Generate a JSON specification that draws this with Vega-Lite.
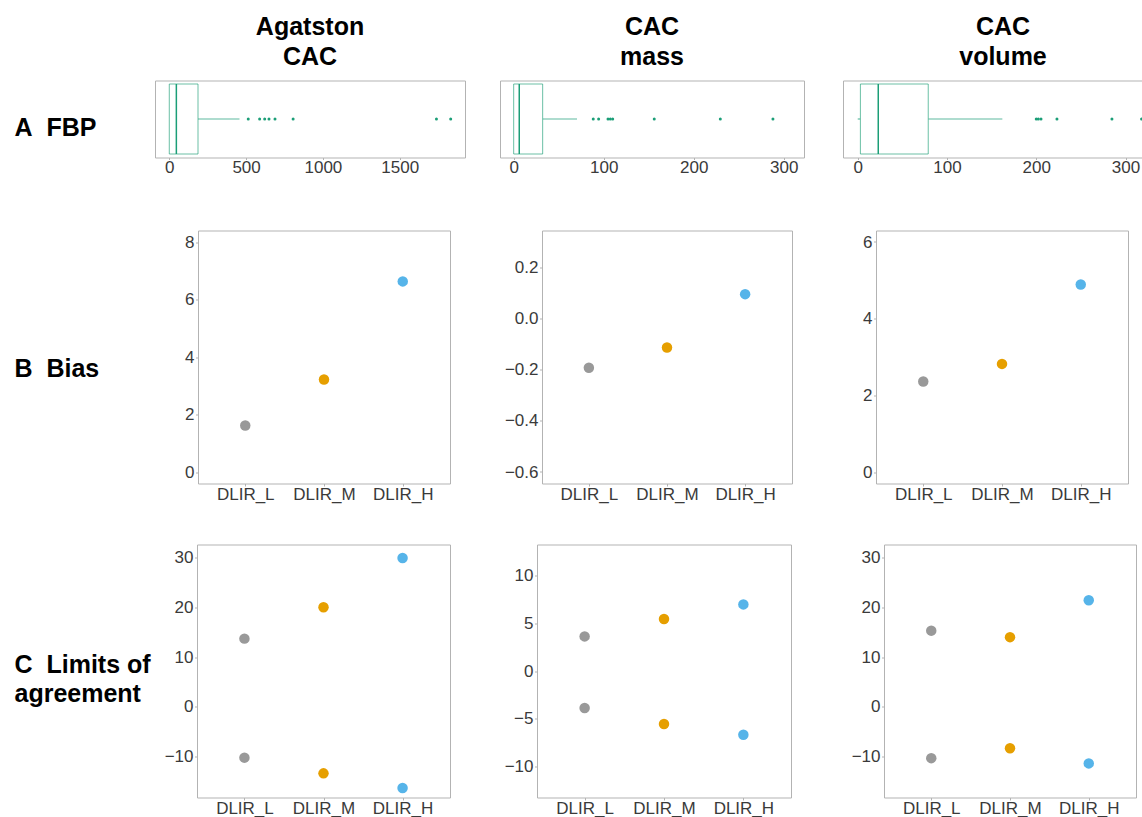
{
  "$schema": "https://vega.github.io/schema/vega-lite/v6.json",
  "background": "white",
  "padding": {"left": 13, "top": 14.5, "right": 0, "bottom": 0},
  "datasets": {
    "box": [
      {"metric": "Agatston CAC", "lower": 0, "q1": 0, "median": 46, "q3": 187, "upper": 457},
      {"metric": "CAC mass", "lower": 0, "q1": 0, "median": 6.2, "q3": 32.2, "upper": 70.4},
      {"metric": "CAC volume", "lower": 0, "q1": 3, "median": 23, "q3": 79, "upper": 162}
    ],
    "outliers": [
      {"metric": "Agatston CAC", "value": 514},
      {"metric": "Agatston CAC", "value": 588},
      {"metric": "Agatston CAC", "value": 621},
      {"metric": "Agatston CAC", "value": 649},
      {"metric": "Agatston CAC", "value": 688},
      {"metric": "Agatston CAC", "value": 806},
      {"metric": "Agatston CAC", "value": 1739},
      {"metric": "Agatston CAC", "value": 1832},
      {"metric": "CAC mass", "value": 88.4},
      {"metric": "CAC mass", "value": 94.4},
      {"metric": "CAC mass", "value": 104.8},
      {"metric": "CAC mass", "value": 107.4},
      {"metric": "CAC mass", "value": 110},
      {"metric": "CAC mass", "value": 156.2},
      {"metric": "CAC mass", "value": 229.6},
      {"metric": "CAC mass", "value": 288.1},
      {"metric": "CAC volume", "value": 200},
      {"metric": "CAC volume", "value": 202.3},
      {"metric": "CAC volume", "value": 205.3},
      {"metric": "CAC volume", "value": 223.2},
      {"metric": "CAC volume", "value": 284.8},
      {"metric": "CAC volume", "value": 318}
    ],
    "bias": [
      {"metric": "Agatston CAC", "method": "DLIR_L", "bias": 1.62},
      {"metric": "Agatston CAC", "method": "DLIR_M", "bias": 3.22},
      {"metric": "Agatston CAC", "method": "DLIR_H", "bias": 6.63},
      {"metric": "CAC mass", "method": "DLIR_L", "bias": -0.192},
      {"metric": "CAC mass", "method": "DLIR_M", "bias": -0.113},
      {"metric": "CAC mass", "method": "DLIR_H", "bias": 0.096},
      {"metric": "CAC volume", "method": "DLIR_L", "bias": 2.36},
      {"metric": "CAC volume", "method": "DLIR_M", "bias": 2.82},
      {"metric": "CAC volume", "method": "DLIR_H", "bias": 4.89}
    ],
    "loa": [
      {"metric": "Agatston CAC", "method": "DLIR_L", "limit": "upper", "value": 13.7},
      {"metric": "Agatston CAC", "method": "DLIR_L", "limit": "lower", "value": -10.2},
      {"metric": "Agatston CAC", "method": "DLIR_M", "limit": "upper", "value": 20.0},
      {"metric": "Agatston CAC", "method": "DLIR_M", "limit": "lower", "value": -13.35},
      {"metric": "Agatston CAC", "method": "DLIR_H", "limit": "upper", "value": 29.9},
      {"metric": "Agatston CAC", "method": "DLIR_H", "limit": "lower", "value": -16.3},
      {"metric": "CAC mass", "method": "DLIR_L", "limit": "upper", "value": 3.61},
      {"metric": "CAC mass", "method": "DLIR_L", "limit": "lower", "value": -3.86},
      {"metric": "CAC mass", "method": "DLIR_M", "limit": "upper", "value": 5.43},
      {"metric": "CAC mass", "method": "DLIR_M", "limit": "lower", "value": -5.53},
      {"metric": "CAC mass", "method": "DLIR_H", "limit": "upper", "value": 6.95},
      {"metric": "CAC mass", "method": "DLIR_H", "limit": "lower", "value": -6.65},
      {"metric": "CAC volume", "method": "DLIR_L", "limit": "upper", "value": 15.3},
      {"metric": "CAC volume", "method": "DLIR_L", "limit": "lower", "value": -10.3},
      {"metric": "CAC volume", "method": "DLIR_M", "limit": "upper", "value": 14.0},
      {"metric": "CAC volume", "method": "DLIR_M", "limit": "lower", "value": -8.3},
      {"metric": "CAC volume", "method": "DLIR_H", "limit": "upper", "value": 21.4},
      {"metric": "CAC volume", "method": "DLIR_H", "limit": "lower", "value": -11.35}
    ]
  },
  "spacing": 53,
  "vconcat": [
    {
      "spacing": 33,
      "hconcat": [
        {
          "width": 310, "height": 77,
          "title": {"text": ["Agatston", "CAC"]},
          "layer": [
            {"data": {"name": "box"}, "transform": [{"filter": "datum.metric === 'Agatston CAC'"}],
             "mark": {"type": "rule", "stroke": "#1b9e77", "strokeOpacity": 0.7, "strokeWidth": 1.2},
             "encoding": {
               "x": {"field": "q3", "type": "quantitative", "scale": {"domain": [-93, 1925], "nice": false, "zero": false}, "axis": {"title": null, "values": [0, 500, 1000, 1500], "format": "d", "tickSize": 2, "labelPadding": 0}},
               "x2": {"field": "upper"},
               "y": {"field": "metric", "type": "nominal", "scale": {"type": "band", "paddingInner": 0, "paddingOuter": 0.05},
                     "axis": {"title": "A\u00a0\u00a0FBP", "labels": false, "ticks": false, "domain": false, "titleAngle": 0, "titleAlign": "left", "titleBaseline": "alphabetic", "titleX": -141, "titleY": 55, "titleFontSize": 25, "titleFontWeight": "bold", "titleColor": "black", "titleFont": "Liberation Sans"}}
             }},
            {"data": {"name": "box"}, "transform": [{"filter": "datum.metric === 'Agatston CAC'"}],
             "mark": {"type": "rule", "stroke": "#1b9e77", "strokeOpacity": 0.7, "strokeWidth": 1.2},
             "encoding": {"x": {"field": "lower", "type": "quantitative"}, "x2": {"field": "q1"}, "y": {"field": "metric", "type": "nominal"}}},
            {"data": {"name": "box"}, "transform": [{"filter": "datum.metric === 'Agatston CAC'"}],
             "mark": {"type": "bar", "fill": "white", "stroke": "#1b9e77", "strokeOpacity": 0.65, "strokeWidth": 1},
             "encoding": {"x": {"field": "q1", "type": "quantitative"}, "x2": {"field": "q3"}, "y": {"field": "metric", "type": "nominal"}}},
            {"data": {"name": "box"}, "transform": [{"filter": "datum.metric === 'Agatston CAC'"}],
             "mark": {"type": "tick", "color": "#1b9e77", "size": 70, "thickness": 1.5, "opacity": 1},
             "encoding": {"x": {"field": "median", "type": "quantitative"}, "y": {"field": "metric", "type": "nominal"}}},
            {"data": {"name": "outliers"}, "transform": [{"filter": "datum.metric === 'Agatston CAC'"}],
             "mark": {"type": "circle", "color": "#1b9e77", "size": 9, "opacity": 1},
             "encoding": {"x": {"field": "value", "type": "quantitative"}, "y": {"field": "metric", "type": "nominal"}}}
          ]
        },
        {
          "spacing": 39,
          "bounds": "flush",
          "hconcat": [
            {
              "width": 304, "height": 77,
              "title": {"text": ["CAC", "mass"]},
              "layer": [
                {"data": {"name": "box"}, "transform": [{"filter": "datum.metric === 'CAC mass'"}],
                 "mark": {"type": "rule", "stroke": "#1b9e77", "strokeOpacity": 0.7, "strokeWidth": 1.2},
                 "encoding": {
                   "x": {"field": "q3", "type": "quantitative", "scale": {"domain": [-15.2, 322.6], "nice": false, "zero": false}, "axis": {"title": null, "values": [0, 100, 200, 300], "format": "d", "tickSize": 2, "labelPadding": 0}},
                   "x2": {"field": "upper"},
                   "y": {"field": "metric", "type": "nominal", "scale": {"type": "band", "paddingInner": 0, "paddingOuter": 0.05}, "axis": null}
                 }},
                {"data": {"name": "box"}, "transform": [{"filter": "datum.metric === 'CAC mass'"}],
                 "mark": {"type": "rule", "stroke": "#1b9e77", "strokeOpacity": 0.7, "strokeWidth": 1.2},
                 "encoding": {"x": {"field": "lower", "type": "quantitative"}, "x2": {"field": "q1"}, "y": {"field": "metric", "type": "nominal"}}},
                {"data": {"name": "box"}, "transform": [{"filter": "datum.metric === 'CAC mass'"}],
                 "mark": {"type": "bar", "fill": "white", "stroke": "#1b9e77", "strokeOpacity": 0.65, "strokeWidth": 1},
                 "encoding": {"x": {"field": "q1", "type": "quantitative"}, "x2": {"field": "q3"}, "y": {"field": "metric", "type": "nominal"}}},
                {"data": {"name": "box"}, "transform": [{"filter": "datum.metric === 'CAC mass'"}],
                 "mark": {"type": "tick", "color": "#1b9e77", "size": 70, "thickness": 1.5, "opacity": 1},
                 "encoding": {"x": {"field": "median", "type": "quantitative"}, "y": {"field": "metric", "type": "nominal"}}},
                {"data": {"name": "outliers"}, "transform": [{"filter": "datum.metric === 'CAC mass'"}],
                 "mark": {"type": "circle", "color": "#1b9e77", "size": 9, "opacity": 1},
                 "encoding": {"x": {"field": "value", "type": "quantitative"}, "y": {"field": "metric", "type": "nominal"}}}
              ]
            },
            {
              "width": 320, "height": 77,
              "title": {"text": ["CAC", "volume"]},
              "layer": [
                {"data": {"name": "box"}, "transform": [{"filter": "datum.metric === 'CAC volume'"}],
                 "mark": {"type": "rule", "stroke": "#1b9e77", "strokeOpacity": 0.7, "strokeWidth": 1.2},
                 "encoding": {
                   "x": {"field": "q3", "type": "quantitative", "scale": {"domain": [-16.5, 342], "nice": false, "zero": false}, "axis": {"title": null, "values": [0, 100, 200, 300], "format": "d", "tickSize": 2, "labelPadding": 0}},
                   "x2": {"field": "upper"},
                   "y": {"field": "metric", "type": "nominal", "scale": {"type": "band", "paddingInner": 0, "paddingOuter": 0.05}, "axis": null}
                 }},
                {"data": {"name": "box"}, "transform": [{"filter": "datum.metric === 'CAC volume'"}],
                 "mark": {"type": "rule", "stroke": "#1b9e77", "strokeOpacity": 0.7, "strokeWidth": 1.2},
                 "encoding": {"x": {"field": "lower", "type": "quantitative"}, "x2": {"field": "q1"}, "y": {"field": "metric", "type": "nominal"}}},
                {"data": {"name": "box"}, "transform": [{"filter": "datum.metric === 'CAC volume'"}],
                 "mark": {"type": "bar", "fill": "white", "stroke": "#1b9e77", "strokeOpacity": 0.65, "strokeWidth": 1},
                 "encoding": {"x": {"field": "q1", "type": "quantitative"}, "x2": {"field": "q3"}, "y": {"field": "metric", "type": "nominal"}}},
                {"data": {"name": "box"}, "transform": [{"filter": "datum.metric === 'CAC volume'"}],
                 "mark": {"type": "tick", "color": "#1b9e77", "size": 70, "thickness": 1.5, "opacity": 1},
                 "encoding": {"x": {"field": "median", "type": "quantitative"}, "y": {"field": "metric", "type": "nominal"}}},
                {"data": {"name": "outliers"}, "transform": [{"filter": "datum.metric === 'CAC volume'"}],
                 "mark": {"type": "circle", "color": "#1b9e77", "size": 9, "opacity": 1},
                 "encoding": {"x": {"field": "value", "type": "quantitative"}, "y": {"field": "metric", "type": "nominal"}}}
              ]
            }
          ]
        }
      ]
    },
    {
      "spacing": 41,
      "vconcat": [
        {
          "bounds": "flush",
          "spacing": 0,
          "hconcat": [
            {"width": 43, "height": 1, "view": {"stroke": null, "fill": null}, "data": {"values": []}, "mark": {"type": "point"}, "encoding": {}},
            {
              "spacing": 52,
              "hconcat": [
                {
                  "width": 252, "height": 253,
                  "data": {"name": "bias"}, "transform": [{"filter": "datum.metric === 'Agatston CAC'"}],
                  "mark": {"type": "circle", "size": 110, "opacity": 1},
                  "encoding": {
                    "x": {"field": "method", "type": "nominal", "sort": ["DLIR_L", "DLIR_M", "DLIR_H"], "scale": {"type": "point", "padding": 0.6, "domain": ["DLIR_L", "DLIR_M", "DLIR_H"]}, "axis": {"title": null, "labelAngle": 0}},
                    "y": {"field": "bias", "type": "quantitative", "scale": {"domain": [-0.4, 8.4], "nice": false, "zero": false},
                          "axis": {"values": [0, 2, 4, 6, 8], "title": "B\u00a0\u00a0Bias", "titleAngle": 0, "titleAlign": "left", "titleBaseline": "alphabetic", "titleX": -184, "titleY": 146, "titleFontSize": 25, "titleFontWeight": "bold", "titleColor": "black", "titleFont": "Liberation Sans"}},
                    "color": {"field": "method", "type": "nominal", "scale": {"domain": ["DLIR_L", "DLIR_M", "DLIR_H"], "range": ["#999999", "#E69F00", "#56B4E9"]}, "legend": null}
                  }
                },
                {
                  "spacing": 84,
                  "bounds": "flush",
                  "hconcat": [
                    {
                      "width": 250, "height": 253,
                      "data": {"name": "bias"}, "transform": [{"filter": "datum.metric === 'CAC mass'"}],
                      "mark": {"type": "circle", "size": 110, "opacity": 1},
                      "encoding": {
                        "x": {"field": "method", "type": "nominal", "sort": ["DLIR_L", "DLIR_M", "DLIR_H"], "scale": {"type": "point", "padding": 0.6, "domain": ["DLIR_L", "DLIR_M", "DLIR_H"]}, "axis": {"title": null, "labelAngle": 0}},
                        "y": {"field": "bias", "type": "quantitative", "scale": {"domain": [-0.645, 0.345], "nice": false, "zero": false}, "axis": {"values": [-0.6, -0.4, -0.2, 0, 0.2], "format": ".1f", "title": null}},
                        "color": {"field": "method", "type": "nominal", "scale": {"domain": ["DLIR_L", "DLIR_M", "DLIR_H"], "range": ["#999999", "#E69F00", "#56B4E9"]}, "legend": null}
                      }
                    },
                    {
                      "width": 252, "height": 253,
                      "data": {"name": "bias"}, "transform": [{"filter": "datum.metric === 'CAC volume'"}],
                      "mark": {"type": "circle", "size": 110, "opacity": 1},
                      "encoding": {
                        "x": {"field": "method", "type": "nominal", "sort": ["DLIR_L", "DLIR_M", "DLIR_H"], "scale": {"type": "point", "padding": 0.6, "domain": ["DLIR_L", "DLIR_M", "DLIR_H"]}, "axis": {"title": null, "labelAngle": 0}},
                        "y": {"field": "bias", "type": "quantitative", "scale": {"domain": [-0.3, 6.3], "nice": false, "zero": false}, "axis": {"values": [0, 2, 4, 6], "title": null}},
                        "color": {"field": "method", "type": "nominal", "scale": {"domain": ["DLIR_L", "DLIR_M", "DLIR_H"], "range": ["#999999", "#E69F00", "#56B4E9"]}, "legend": null}
                      }
                    }
                  ]
                }
              ]
            }
          ]
        },
        {
          "bounds": "flush",
          "spacing": 0,
          "hconcat": [
            {"width": 42, "height": 1, "view": {"stroke": null, "fill": null}, "data": {"values": []}, "mark": {"type": "point"}, "encoding": {}},
            {
              "spacing": 52,
              "hconcat": [
                {
                  "width": 253, "height": 253,
                  "data": {"name": "loa"}, "transform": [{"filter": "datum.metric === 'Agatston CAC'"}],
                  "mark": {"type": "circle", "size": 110, "opacity": 1},
                  "encoding": {
                    "x": {"field": "method", "type": "nominal", "sort": ["DLIR_L", "DLIR_M", "DLIR_H"], "scale": {"type": "point", "padding": 0.6, "domain": ["DLIR_L", "DLIR_M", "DLIR_H"]}, "axis": {"title": null, "labelAngle": 0}},
                    "y": {"field": "value", "type": "quantitative", "scale": {"domain": [-18.2, 32.6], "nice": false, "zero": false},
                          "axis": {"values": [-10, 0, 10, 20, 30], "title": ["C\u00a0\u00a0Limits of", "agreement"], "titleAngle": 0, "titleAlign": "left", "titleBaseline": "alphabetic", "titleX": -183, "titleY": 128, "titleLineHeight": 29, "titleFontSize": 25, "titleFontWeight": "bold", "titleColor": "black", "titleFont": "Liberation Sans"}},
                    "color": {"field": "method", "type": "nominal", "scale": {"domain": ["DLIR_L", "DLIR_M", "DLIR_H"], "range": ["#999999", "#E69F00", "#56B4E9"]}, "legend": null},
                    "detail": {"field": "limit"}
                  }
                },
                {
                  "spacing": 93,
                  "bounds": "flush",
                  "hconcat": [
                    {
                      "width": 254, "height": 253,
                      "data": {"name": "loa"}, "transform": [{"filter": "datum.metric === 'CAC mass'"}],
                      "mark": {"type": "circle", "size": 110, "opacity": 1},
                      "encoding": {
                        "x": {"field": "method", "type": "nominal", "sort": ["DLIR_L", "DLIR_M", "DLIR_H"], "scale": {"type": "point", "padding": 0.6, "domain": ["DLIR_L", "DLIR_M", "DLIR_H"]}, "axis": {"title": null, "labelAngle": 0}},
                        "y": {"field": "value", "type": "quantitative", "scale": {"domain": [-13.2, 13.2], "nice": false, "zero": false}, "axis": {"values": [-10, -5, 0, 5, 10], "title": null}},
                        "color": {"field": "method", "type": "nominal", "scale": {"domain": ["DLIR_L", "DLIR_M", "DLIR_H"], "range": ["#999999", "#E69F00", "#56B4E9"]}, "legend": null},
                        "detail": {"field": "limit"}
                      }
                    },
                    {
                      "width": 252, "height": 253,
                      "data": {"name": "loa"}, "transform": [{"filter": "datum.metric === 'CAC volume'"}],
                      "mark": {"type": "circle", "size": 110, "opacity": 1},
                      "encoding": {
                        "x": {"field": "method", "type": "nominal", "sort": ["DLIR_L", "DLIR_M", "DLIR_H"], "scale": {"type": "point", "padding": 0.6, "domain": ["DLIR_L", "DLIR_M", "DLIR_H"]}, "axis": {"title": null, "labelAngle": 0}},
                        "y": {"field": "value", "type": "quantitative", "scale": {"domain": [-18.2, 32.6], "nice": false, "zero": false}, "axis": {"values": [-10, 0, 10, 20, 30], "title": null}},
                        "color": {"field": "method", "type": "nominal", "scale": {"domain": ["DLIR_L", "DLIR_M", "DLIR_H"], "range": ["#999999", "#E69F00", "#56B4E9"]}, "legend": null},
                        "detail": {"field": "limit"}
                      }
                    }
                  ]
                }
              ]
            }
          ]
        }
      ]
    }
  ],
  "config": {
    "font": "Liberation Sans",
    "view": {"stroke": "#b3b3b3", "strokeWidth": 1},
    "axis": {"labelFont": "Liberation Sans", "labelFontSize": 17, "labelColor": "#3a3a3a", "tickColor": "#b3b3b3", "tickSize": 2.5, "domain": false, "grid": false},
    "axisX": {"labelPadding": 0},
    "axisY": {"labelPadding": 1.5},
    "title": {"font": "Liberation Sans", "fontSize": 25, "fontWeight": "bold", "color": "black", "lineHeight": 30, "offset": 10.5, "anchor": "middle"}
  }
}
